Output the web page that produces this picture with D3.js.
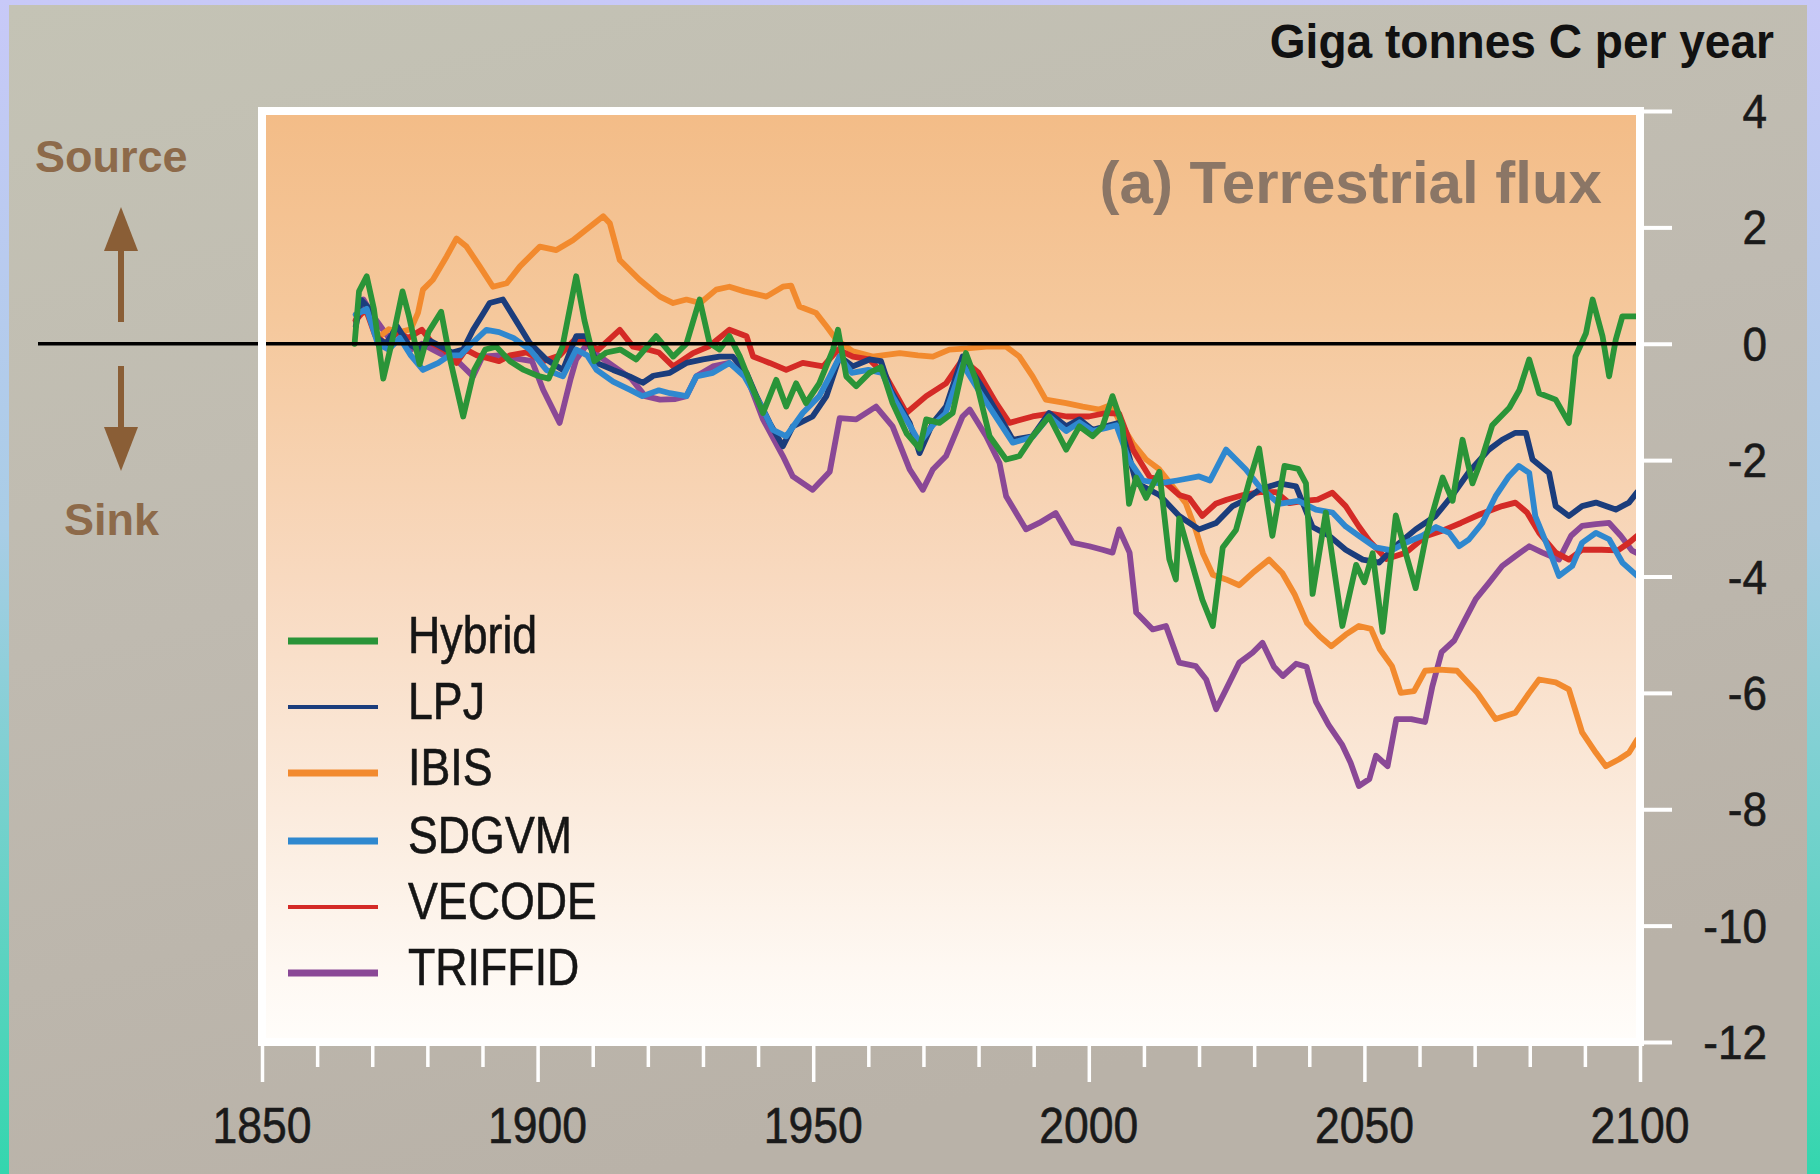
<!DOCTYPE html>
<html>
<head>
<meta charset="utf-8">
<script src="https://cdn.jsdelivr.net/npm/d3@7"></script>
<style>
  html, body { margin: 0; padding: 0; background: #bdb8ad; overflow: hidden; }
  svg { display: block; }
</style>
</head>
<body>
<svg id="chart" width="1820" height="1174"></svg>
<script>
// ---- Terrestrial carbon flux by model, Gt C per year (positive = source) ----
const seriesNames = ["Hybrid", "LPJ", "IBIS", "SDGVM", "VECODE", "TRIFFID"];

const hybrid = [
  [1866.8,0.0],[1867.6,0.9],[1869,1.16],[1870.3,0.6],[1872,-0.6],[1873.5,0.0],[1875.5,0.9],[1876.6,0.5],
  [1878.6,-0.35],[1880.2,0.2],[1882.5,0.55],[1884.2,-0.3],[1886.5,-1.25],[1888.5,-0.45],[1890.5,-0.1],
  [1892.5,-0.05],[1895,-0.3],[1897.5,-0.45],[1900,-0.55],[1902,-0.6],[1904.5,-0.05],[1907,1.16],[1908.5,0.4],
  [1910.3,-0.3],[1912.5,-0.15],[1915,-0.1],[1917.9,-0.27],[1921.5,0.13],[1924.6,-0.22],[1927,0.0],[1929.4,0.76],
  [1931.2,0.01],[1933,-0.1],[1934.8,0.13],[1936.7,-0.22],[1939.1,-0.79],[1940.9,-1.19],[1943.3,-0.62],
  [1945.1,-1.08],[1946.9,-0.68],[1948.7,-1.02],[1951.1,-0.68],[1953.6,-0.1],[1954.5,0.24],[1956,-0.56],
  [1957.8,-0.73],[1960.2,-0.5],[1962.3,-0.4],[1964.4,-1.02],[1967,-1.55],[1969.3,-1.8],[1970.5,-1.3],
  [1972.9,-1.36],[1975.3,-1.19],[1977.7,-0.16],[1979.5,-0.62],[1982,-1.59],[1985,-1.99],[1987.4,-1.93],
  [1989.8,-1.59],[1992.8,-1.25],[1995.9,-1.82],[1998.3,-1.42],[2000.7,-1.59],[2002.5,-1.42],[2004.3,-0.9],
  [2006.1,-1.4],[2007.3,-2.75],[2008.6,-2.3],[2010.4,-2.65],[2012.8,-2.2],[2014.6,-3.7],[2015.8,-4.05],
  [2016.4,-3.0],[2018.8,-3.8],[2020.6,-4.4],[2022.5,-4.85],[2024.3,-3.5],[2026.7,-3.2],[2029,-2.4],
  [2030.9,-1.8],[2033.3,-3.3],[2035.5,-2.1],[2038,-2.15],[2039.4,-2.4],[2040.6,-4.3],[2043,-2.9],[2046,-4.85],
  [2048.5,-3.8],[2050,-4.1],[2051.5,-3.6],[2053.3,-4.95],[2055.7,-2.95],[2057.5,-3.6],[2059.3,-4.2],
  [2061.2,-3.3],[2064.2,-2.3],[2066,-2.7],[2067.8,-1.65],[2069.6,-2.4],[2071.4,-1.95],[2073.2,-1.4],
  [2076.3,-1.1],[2078.1,-0.8],[2079.9,-0.27],[2081.7,-0.85],[2084.7,-0.96],[2087.1,-1.36],[2088.3,-0.22],
  [2090.2,0.18],[2091.4,0.76],[2093.2,0.13],[2094.4,-0.56],[2095.6,0.07],[2096.8,0.47],[2099.5,0.47]
];

const lpj = [
  [1867,0.3],[1868,0.75],[1869.5,0.6],[1870.8,0.1],[1872.5,0.0],[1874.5,0.3],[1876.5,0.0],[1878.5,-0.1],
  [1880.5,0.05],[1882.5,-0.05],[1884.5,-0.15],[1886.5,-0.1],[1888.3,0.24],[1890,0.5],[1891.3,0.7],[1893.7,0.76],
  [1895.6,0.47],[1898.6,0.01],[1901.6,-0.27],[1904.6,-0.45],[1907,0.13],[1908.9,0.13],[1910.7,-0.33],
  [1913.7,-0.45],[1916.7,-0.56],[1919.1,-0.67],[1921,-0.55],[1924,-0.5],[1927,-0.33],[1930,-0.27],[1933,-0.22],
  [1935.4,-0.22],[1937.9,-0.5],[1939.7,-0.9],[1942.1,-1.36],[1944.5,-1.76],[1946.3,-1.42],[1949.9,-1.25],
  [1952.4,-0.9],[1954.8,-0.22],[1957.2,-0.39],[1960.2,-0.27],[1962.3,-0.3],[1964,-0.79],[1967.5,-1.36],
  [1969.3,-1.88],[1971.7,-1.36],[1974.1,-1.08],[1977.1,-0.22],[1980.2,-0.68],[1983.8,-1.25],[1986.2,-1.65],
  [1989.8,-1.59],[1992.8,-1.19],[1995.9,-1.42],[1998.3,-1.3],[2000.7,-1.48],[2003.1,-1.42],[2005.5,-1.36],
  [2007.3,-1.93],[2008.6,-2.39],[2012.8,-2.6],[2016.4,-2.96],[2020,-3.19],[2023.1,-3.08],[2026.1,-2.79],
  [2028.5,-2.68],[2030.9,-2.51],[2034.5,-2.4],[2037.6,-2.45],[2040.6,-3.15],[2043.6,-3.3],[2046.6,-3.54],
  [2049.7,-3.71],[2052.7,-3.76],[2056,-3.45],[2059.3,-3.19],[2062.9,-2.96],[2066,-2.6],[2069,-2.2],
  [2072.6,-1.82],[2075,-1.65],[2077.4,-1.53],[2079.3,-1.53],[2080.5,-1.99],[2083.5,-2.22],[2084.7,-2.79],
  [2087.1,-2.96],[2089.5,-2.79],[2092,-2.73],[2095.6,-2.85],[2098,-2.73],[2099.5,-2.55]
];

const ibis = [
  [1867,0.5],[1869,0.55],[1871,0.1],[1873,0.25],[1875,0.2],[1877,0.25],[1878.3,0.53],[1879.2,0.93],
  [1881,1.1],[1883.5,1.5],[1885.3,1.81],[1887.1,1.67],[1889.5,1.33],[1891.9,0.98],[1894.4,1.04],[1896.8,1.33],
  [1900.4,1.67],[1903.4,1.61],[1906.4,1.78],[1908.8,1.96],[1911.9,2.19],[1913.1,2.07],[1914.9,1.44],
  [1918.5,1.1],[1922.2,0.81],[1924.6,0.7],[1927,0.76],[1929.5,0.7],[1932.4,0.93],[1934.8,0.98],[1937.5,0.9],
  [1941.5,0.81],[1944.5,0.98],[1946,1.0],[1947.5,0.64],[1950.5,0.53],[1952.4,0.3],[1954.2,0.07],
  [1957.2,-0.13],[1960.8,-0.22],[1965.7,-0.16],[1969,-0.2],[1971.7,-0.22],[1974.7,-0.1],[1978,-0.08],
  [1981.4,-0.05],[1985,-0.05],[1987.4,-0.22],[1989.8,-0.56],[1992.2,-0.96],[1995.9,-1.02],[1998.9,-1.08],
  [2001.9,-1.13],[2004,-1.05],[2006.1,-1.42],[2008,-1.71],[2010.4,-1.99],[2012.8,-2.16],[2015.2,-2.45],
  [2017.6,-2.74],[2019.4,-3.2],[2020.7,-3.6],[2022.5,-3.97],[2024.9,-4.05],[2027.3,-4.15],[2029.7,-3.94],
  [2032.7,-3.71],[2035.1,-3.94],[2037.3,-4.3],[2039.6,-4.8],[2041.8,-5.02],[2044,-5.2],[2046.6,-5.0],
  [2049,-4.85],[2051.2,-4.9],[2052.8,-5.25],[2055,-5.54],[2056.6,-6.0],[2059,-5.97],[2061,-5.62],
  [2063.6,-5.6],[2066.8,-5.62],[2070.5,-6.0],[2073.8,-6.45],[2077.4,-6.34],[2079.9,-6.0],[2081.7,-5.77],
  [2084.7,-5.82],[2087.1,-5.94],[2089.5,-6.68],[2092,-7.03],[2093.8,-7.26],[2096.2,-7.14],[2098,-7.03],
  [2099.5,-6.8]
];

const sdgvm = [
  [1867,0.5],[1869,0.6],[1871,0.0],[1873,-0.1],[1875,0.1],[1877,-0.2],[1879.2,-0.45],[1882,-0.33],
  [1884,-0.2],[1886,-0.2],[1888,0.0],[1890.7,0.24],[1893,0.2],[1895.6,0.1],[1898.6,-0.1],[1901.6,-0.45],
  [1904.6,-0.56],[1907,-0.1],[1909,-0.2],[1910.7,-0.45],[1913.7,-0.65],[1916.7,-0.79],[1919,-0.9],
  [1922,-0.8],[1924,-0.85],[1927,-0.9],[1928.8,-0.56],[1931.8,-0.5],[1934.8,-0.33],[1937.5,-0.56],
  [1940.3,-1.02],[1942.7,-1.48],[1945.1,-1.59],[1948.1,-1.19],[1951.1,-0.9],[1953,-0.56],[1954.8,-0.22],
  [1957,-0.5],[1960,-0.45],[1962.5,-0.5],[1964.4,-0.9],[1967.5,-1.4],[1969.3,-1.7],[1971.7,-1.4],
  [1974,-1.2],[1977.1,-0.35],[1980,-0.8],[1983.8,-1.35],[1986.2,-1.7],[1989.8,-1.6],[1992.8,-1.25],
  [1995.9,-1.5],[1998.3,-1.35],[2000.7,-1.5],[2003,-1.45],[2005,-1.4],[2007.3,-2.0],[2009.8,-2.35],
  [2012.8,-2.4],[2016,-2.35],[2020,-2.28],[2022,-2.35],[2024.9,-1.82],[2028.5,-2.16],[2030.9,-2.45],
  [2034.5,-2.75],[2038,-2.7],[2041.2,-2.85],[2044.2,-2.9],[2046.6,-3.14],[2049,-3.3],[2052,-3.5],
  [2055,-3.55],[2057.5,-3.42],[2060.5,-3.3],[2063,-3.15],[2065.4,-3.25],[2067.2,-3.48],[2069,-3.36],
  [2071.4,-3.08],[2073.8,-2.62],[2076.2,-2.28],[2078,-2.1],[2079.9,-2.22],[2081,-2.96],[2083.5,-3.54],
  [2085.3,-3.99],[2087.7,-3.82],[2089.5,-3.42],[2092,-3.25],[2094.4,-3.36],[2096.8,-3.76],[2099.5,-3.99]
];

const vecode = [
  [1867,0.4],[1868.8,0.6],[1870.5,0.15],[1872.5,0.0],[1874.5,0.2],[1876.5,0.1],[1879,0.24],[1881,0.0],
  [1883,-0.1],[1885.3,-0.33],[1887,-0.1],[1889,-0.2],[1891,-0.25],[1893,-0.3],[1895,-0.2],[1898,-0.15],
  [1901,-0.3],[1904,-0.2],[1907,0.1],[1909,0.0],[1911,-0.1],[1914.9,0.24],[1917.3,-0.05],[1920,-0.1],
  [1922,-0.15],[1924.6,-0.39],[1928.2,-0.16],[1931,-0.05],[1934.8,0.24],[1937.9,0.13],[1939.1,-0.22],
  [1942.1,-0.33],[1945.1,-0.45],[1948.1,-0.33],[1951.8,-0.39],[1954.5,-0.1],[1957.2,-0.22],[1960.2,-0.27],
  [1963.2,-0.56],[1966.9,-1.19],[1970.5,-0.9],[1974.1,-0.68],[1977.1,-0.27],[1980,-0.5],[1983.2,-1.02],
  [1985.6,-1.36],[1989.8,-1.25],[1993,-1.2],[1996,-1.25],[2000,-1.25],[2003.1,-1.19],[2005.5,-1.2],
  [2008,-1.82],[2011,-2.28],[2014,-2.4],[2016.4,-2.6],[2018.2,-2.65],[2020.6,-2.96],[2023,-2.75],
  [2025,-2.68],[2028,-2.6],[2031,-2.55],[2034,-2.55],[2036.4,-2.74],[2039,-2.7],[2041.5,-2.68],
  [2044.2,-2.56],[2046.6,-2.79],[2049,-3.14],[2051,-3.4],[2054,-3.7],[2057.5,-3.59],[2061.1,-3.31],
  [2064.5,-3.2],[2067.5,-3.08],[2071,-2.93],[2075,-2.79],[2077.4,-2.73],[2079.5,-2.9],[2081.7,-3.25],
  [2084.7,-3.59],[2087.1,-3.71],[2089.5,-3.54],[2093,-3.54],[2096,-3.55],[2098,-3.42],[2099.5,-3.3]
];

const triffid = [
  [1867,0.4],[1868.4,0.76],[1870,0.5],[1871.5,0.3],[1873,0.1],[1875,0.2],[1877,-0.1],[1879,0.0],
  [1881,-0.1],[1883,-0.2],[1885.5,-0.3],[1888.3,-0.56],[1890,-0.22],[1893,-0.2],[1896,-0.25],[1899,-0.3],
  [1901,-0.79],[1904,-1.36],[1906,-0.6],[1907,-0.27],[1909,0.0],[1911,-0.2],[1914,-0.4],[1917,-0.6],
  [1919.5,-0.9],[1922.2,-0.96],[1925,-0.95],[1927,-0.9],[1928.8,-0.56],[1931.8,-0.39],[1934.8,-0.33],
  [1937.9,-0.56],[1940.9,-1.3],[1944.5,-1.93],[1946.3,-2.28],[1949.9,-2.51],[1953,-2.2],[1954.8,-1.28],
  [1957.8,-1.3],[1961.4,-1.08],[1964.4,-1.42],[1967.5,-2.16],[1969.9,-2.51],[1971.7,-2.16],[1974.1,-1.93],
  [1977.1,-1.25],[1978.4,-1.13],[1981.4,-1.59],[1983.8,-2.05],[1985,-2.62],[1988.6,-3.19],[1991,-3.08],
  [1994,-2.91],[1997.1,-3.42],[2000.1,-3.48],[2002.5,-3.54],[2004.3,-3.59],[2005.5,-3.19],[2007.4,-3.59],
  [2008.6,-4.62],[2011.6,-4.91],[2014,-4.85],[2016.4,-5.48],[2019.4,-5.54],[2021.3,-5.77],[2023.1,-6.28],
  [2024.9,-5.94],[2027.3,-5.48],[2029.7,-5.31],[2031.5,-5.14],[2033.6,-5.55],[2035.2,-5.71],[2037.6,-5.5],
  [2039.5,-5.55],[2041.2,-6.15],[2043.5,-6.55],[2046,-6.9],[2047.5,-7.2],[2049,-7.6],[2050.9,-7.48],
  [2052.1,-7.08],[2054.2,-7.26],[2055.8,-6.45],[2058.5,-6.45],[2061,-6.5],[2062.3,-5.9],[2064,-5.3],
  [2066.3,-5.1],[2068.2,-4.75],[2070.2,-4.39],[2072.6,-4.11],[2075,-3.82],[2077.4,-3.65],[2079.9,-3.48],
  [2082.3,-3.59],[2085.3,-3.71],[2087.5,-3.3],[2089.5,-3.13],[2092,-3.1],[2094.4,-3.08],[2096.5,-3.3],
  [2098.5,-3.55],[2099.5,-3.6]
];

const yTickValues = [-12, -10, -8, -6, -4, -2, 0, 2, 4];
const xTickValues = d3.range(1850, 2101, 10);
const xLabelValues = [1850, 1900, 1950, 2000, 2050, 2100];

// ---- styling ----
const seriesData = { Hybrid: hybrid, LPJ: lpj, IBIS: ibis, SDGVM: sdgvm, VECODE: vecode, TRIFFID: triffid };
const style = {
  Hybrid:  { color: "#2a9438", legendWidth: 7 },
  LPJ:     { color: "#1b3d7c", legendWidth: 4 },
  IBIS:    { color: "#f28a2e", legendWidth: 7 },
  SDGVM:   { color: "#2f88cf", legendWidth: 7 },
  VECODE:  { color: "#d42a26", legendWidth: 4 },
  TRIFFID: { color: "#8a4896", legendWidth: 7 }
};
const drawOrder = ["TRIFFID", "IBIS", "VECODE", "LPJ", "SDGVM", "Hybrid"];
const FONT = "'Liberation Sans', Arial, Helvetica, sans-serif";

const W = 1820, H = 1174;
const svg = d3.select("#chart");
const defs = svg.append("defs");

// page frame gradient (lavender to teal) and backdrop
const edge = defs.append("linearGradient").attr("id", "edge").attr("x1", 0).attr("y1", 0).attr("x2", 0).attr("y2", 1);
edge.append("stop").attr("offset", "0%").attr("stop-color", "#c8c9f8");
edge.append("stop").attr("offset", "45%").attr("stop-color", "#a9cde6");
edge.append("stop").attr("offset", "100%").attr("stop-color", "#34d6ae");

const bg = defs.append("linearGradient").attr("id", "bg").attr("x1", 0).attr("y1", 0).attr("x2", 0.35).attr("y2", 1);
bg.append("stop").attr("offset", "0%").attr("stop-color", "#c4c3b5");
bg.append("stop").attr("offset", "50%").attr("stop-color", "#bfbab0");
bg.append("stop").attr("offset", "100%").attr("stop-color", "#b9b2a8");

const plotFill = defs.append("linearGradient").attr("id", "plotFill").attr("x1", 0).attr("y1", 0).attr("x2", 0).attr("y2", 1);
[["0%", "#f3bc87"], ["22%", "#f5c89c"], ["50%", "#f8d9bf"], ["75%", "#fbebdd"], ["92%", "#fef8f2"], ["100%", "#fffdfa"]]
  .forEach(([o, c]) => plotFill.append("stop").attr("offset", o).attr("stop-color", c));

svg.append("rect").attr("width", W).attr("height", H).attr("fill", "url(#edge)");
svg.append("rect").attr("x", 9).attr("y", 5).attr("width", W - 9 - 13).attr("height", H - 5).attr("fill", "url(#bg)");

// ---- scales ----
const x = d3.scaleLinear().domain([1850, 2100]).range([262, 1640]);
const y = d3.scaleLinear().domain([-12, 4]).range([1042, 111]);

// plot panel
svg.append("rect")
  .attr("x", x(1850)).attr("y", y(4))
  .attr("width", x(2100) - x(1850)).attr("height", y(-12) - y(4))
  .attr("fill", "url(#plotFill)");

// ---- series lines ----
const line = d3.line().x(d => x(d[0])).y(d => y(d[1]));
const linesG = svg.append("g");
drawOrder.forEach(name => {
  linesG.append("path")
    .datum(seriesData[name])
    .attr("d", line)
    .attr("fill", "none")
    .attr("stroke", style[name].color)
    .attr("stroke-width", 5.8)
    .attr("stroke-linejoin", "round")
    .attr("stroke-linecap", "round");
});

// zero line, running out into the left margin
svg.append("line")
  .attr("x1", 38).attr("x2", x(2100))
  .attr("y1", y(0)).attr("y2", y(0))
  .attr("stroke", "#000").attr("stroke-width", 3.4);

// white panel border
svg.append("rect")
  .attr("x", x(1850)).attr("y", y(4))
  .attr("width", x(2100) - x(1850)).attr("height", y(-12) - y(4))
  .attr("fill", "none").attr("stroke", "#ffffff").attr("stroke-width", 8);

// helper: horizontally condensed text
function condensed(parent, tx, ty, str, opts) {
  const g = parent.append("g").attr("transform", `translate(${tx},${ty}) scale(${opts.sx || 1},1)`);
  return g.append("text")
    .attr("x", 0).attr("y", 0)
    .attr("text-anchor", opts.anchor || "start")
    .attr("font-family", FONT)
    .attr("font-size", opts.size)
    .attr("font-weight", opts.weight || "normal")
    .attr("fill", opts.fill || "#111")
    .attr("stroke", opts.halo || "none")
    .attr("stroke-width", opts.halo ? 0.6 : 0)
    .text(str);
}

// ---- right y axis ----
const yAxis = d3.axisRight(y).tickValues(yTickValues).tickSize(30).tickFormat(d => String(d));
const yAxisG = svg.append("g").attr("transform", `translate(${x(2100) + 2},0)`).call(yAxis);
yAxisG.select(".domain").remove();
yAxisG.selectAll(".tick line").attr("stroke", "#ffffff").attr("stroke-width", 4);
yAxisG.selectAll(".tick text").remove();
yTickValues.forEach(v => {
  condensed(yAxisG, 125, y(v) + 17, String(v), { size: 49, sx: 0.9, anchor: "end", fill: "#1a1a1a", halo: "#1a1a1a" });
});

// ---- bottom x axis ----
const xAxis = d3.axisBottom(x).tickValues(xTickValues).tickSize(23).tickFormat("");
const xAxisG = svg.append("g").attr("transform", `translate(0,${y(-12) + 3})`).call(xAxis);
xAxisG.select(".domain").remove();
xAxisG.selectAll(".tick line")
  .attr("stroke", "#ffffff").attr("stroke-width", 3.5)
  .attr("y2", d => (d % 50 === 0 ? 37 : 22));
xLabelValues.forEach(v => {
  condensed(xAxisG, x(v), 98, String(v), { size: 50, sx: 0.89, anchor: "middle", fill: "#1a1a1a", halo: "#1a1a1a" });
});

// ---- titles ----
condensed(svg, 1774, 58, "Giga tonnes C per year", { size: 49, sx: 0.94, anchor: "end", weight: "bold", fill: "#111" });
svg.append("text")
  .attr("x", 1602).attr("y", 203)
  .attr("text-anchor", "end")
  .attr("font-family", FONT).attr("font-size", 60).attr("font-weight", "bold")
  .attr("fill", "#8b7666")
  .text("(a) Terrestrial flux");

// ---- source / sink annotation ----
const brown = "#8a5e36";
svg.append("text").attr("x", 35).attr("y", 172)
  .attr("font-family", FONT).attr("font-size", 45).attr("font-weight", "bold")
  .attr("fill", "#8d6a4a").text("Source");
svg.append("text").attr("x", 64).attr("y", 535)
  .attr("font-family", FONT).attr("font-size", 45).attr("font-weight", "bold")
  .attr("fill", "#8d6a4a").text("Sink");

const ax = 121;
svg.append("line").attr("x1", ax).attr("x2", ax).attr("y1", 322).attr("y2", 245)
  .attr("stroke", brown).attr("stroke-width", 6);
svg.append("path").attr("d", `M${ax},207 L${ax + 17},251 L${ax - 17},251 Z`).attr("fill", brown);
svg.append("line").attr("x1", ax).attr("x2", ax).attr("y1", 366).attr("y2", 432)
  .attr("stroke", brown).attr("stroke-width", 6);
svg.append("path").attr("d", `M${ax},471 L${ax + 17},427 L${ax - 17},427 Z`).attr("fill", brown);

// ---- legend ----
const legendRowY = [641, 707, 773, 841, 907, 973];
const legend = svg.append("g");
seriesNames.forEach((name, i) => {
  const ly = legendRowY[i];
  legend.append("line")
    .attr("x1", 288).attr("x2", 378).attr("y1", ly).attr("y2", ly)
    .attr("stroke", style[name].color)
    .attr("stroke-width", style[name].legendWidth);
  condensed(legend, 408, ly + 12, name, { size: 52, sx: 0.86, fill: "#151515", halo: "#151515" });
});
</script>
</body>
</html>
